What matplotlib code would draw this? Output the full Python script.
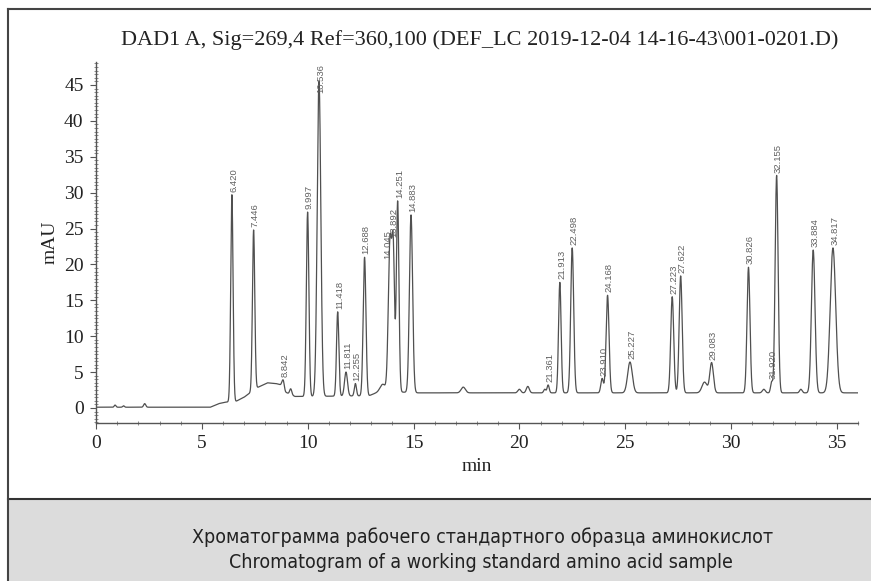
import numpy as np
import matplotlib
matplotlib.use("Agg")
import matplotlib.pyplot as plt
from matplotlib.patches import Rectangle
from matplotlib.ticker import MultipleLocator

# ---- data ----
title = r"DAD1 A, Sig=269,4 Ref=360,100 (DEF_LC 2019-12-04 14-16-43\001-0201.D)"
caption_ru = "Хроматограмма рабочего стандартного образца аминокислот"
caption_en = "Chromatogram of a working standard amino acid sample"

peak_times = [6.420, 7.446, 8.842, 9.997, 10.536, 11.418, 11.811, 12.255, 12.688,
              13.892, 14.045, 14.251, 14.883, 21.361, 21.913, 22.498, 23.910,
              24.168, 25.227, 27.223, 27.622, 29.083, 30.826, 31.920, 32.155,
              33.884, 34.817]
peak_labels = ["6.420", "7.446", "8.842", "9.997", "10.536", "11.418", "11.811",
               "12.255", "12.688", "13.892", "14.045", "14.251", "14.883", "21.361",
               "21.913", "22.498", "23.910", "24.168", "25.227", "27.223", "27.622",
               "29.083", "30.826", "31.920", "32.155", "33.884", "34.817"]
peak_heights = [29.7, 24.8, 3.9, 27.3, 45.5, 13.4, 5.0, 3.4, 21.0,
                23.4, 20.4, 28.8, 26.9, 3.2, 17.5, 22.3, 4.1,
                15.7, 6.4, 15.5, 18.4, 6.3, 19.6, 3.6, 32.4,
                22.0, 22.3]
peak_widths = [0.055, 0.055, 0.05, 0.06, 0.085, 0.055, 0.07, 0.05, 0.065,
               0.08, 0.06, 0.06, 0.075, 0.05, 0.06, 0.07, 0.06,
               0.07, 0.11, 0.07, 0.07, 0.085, 0.07, 0.05, 0.07,
               0.085, 0.13]

bump_times = [0.9, 1.3, 2.3, 9.2, 13.55, 17.35, 20.0, 20.4, 21.2, 28.75, 31.55, 33.3]
bump_heights = [0.3, 0.2, 0.5, 0.8, 1.0, 0.8, 0.5, 0.9, 0.5, 1.5, 0.5, 0.5]
bump_widths = [0.04, 0.04, 0.05, 0.05, 0.12, 0.1, 0.07, 0.07, 0.05, 0.12, 0.07, 0.06]

base_t = [0.0, 5.4, 5.8, 6.1, 6.6, 7.0, 7.6, 8.1, 8.5, 8.75, 8.95, 9.4, 10.0, 12.9,
          13.4, 13.8, 15.2, 20.0, 36.0]
base_v = [0.1, 0.1, 0.6, 0.8, 0.9, 1.5, 2.8, 3.5, 3.4, 3.2, 2.2, 1.6, 1.6, 1.7,
          2.3, 2.3, 2.1, 2.1, 2.1]

x_ticks = [0, 5, 10, 15, 20, 25, 30, 35]
y_ticks = [0, 5, 10, 15, 20, 25, 30, 35, 40, 45]

label_y_offsets = {"10.536": -2.0}
label_x_offsets = {"14.045": -0.32, "13.892": 0.12}

# ---- build trace ----
t = np.linspace(0, 36, 7201)
sig = np.interp(t, base_t, base_v)
for tb, hb, wb in zip(bump_times, bump_heights, bump_widths):
    sig = sig + hb * np.exp(-0.5 * ((t - tb) / wb) ** 2)
for tp, hp, wp in zip(peak_times, peak_heights, peak_widths):
    amp = hp - np.interp(tp, base_t, base_v)
    sig = sig + amp * np.exp(-0.5 * ((t - tp) / wp) ** 2)

# ---- figure ----
fig = plt.figure(figsize=(8.71, 5.81), dpi=100)
W, H = 871, 581

# caption box and frame
fig.patches.append(Rectangle((8 / W, 0), 1.0, 1 - 499 / H, transform=fig.transFigure,
                             facecolor="#dcdcdc", edgecolor="none", zorder=0))
fig.lines.append(plt.Line2D([8 / W, 1], [1 - 499 / H, 1 - 499 / H], transform=fig.transFigure,
                            color="#333333", lw=1.5))
fig.lines.append(plt.Line2D([8 / W, 8 / W], [0, 1 - 9 / H], transform=fig.transFigure,
                            color="#444444", lw=1.5))
fig.lines.append(plt.Line2D([8 / W, 1], [1 - 9 / H, 1 - 9 / H], transform=fig.transFigure,
                            color="#444444", lw=1.5))

ax = fig.add_axes([96 / W, 1 - 423 / H, (858 - 96) / W, (423 - 62) / H])
ax.plot(t, sig, color="#505050", lw=0.9)
ax.set_xlim(0, 36)
ax.set_ylim(-2.1, 48.2)
for s in ["top", "right"]:
    ax.spines[s].set_visible(False)
for s in ["left", "bottom"]:
    ax.spines[s].set_color("#555555")
    ax.spines[s].set_linewidth(1.0)
ax.set_xticks(x_ticks)
ax.set_yticks(y_ticks)
ax.xaxis.set_minor_locator(MultipleLocator(1))
ax.yaxis.set_minor_locator(MultipleLocator(0.5))
ax.tick_params(which="major", direction="out", length=4, color="#555555", labelsize=14,
               pad=5)
ax.tick_params(which="minor", direction="inout", length=3, color="#777777")
for lab in ax.get_xticklabels() + ax.get_yticklabels():
    lab.set_family("Liberation Serif")
    lab.set_color("#222222")

ax.set_xlabel("min", family="Liberation Serif", fontsize=14, color="#222222", labelpad=4)
ax.set_ylabel("mAU", family="Liberation Serif", fontsize=14, color="#222222", labelpad=4)

for tp, hp, lb in zip(peak_times, peak_heights, peak_labels):
    ax.text(tp + 0.08 + label_x_offsets.get(lb, 0.0),
            hp + 0.4 + label_y_offsets.get(lb, 0.0), lb, rotation=90,
            ha="center", va="bottom", fontsize=6.8, color="#606060",
            family="Liberation Sans")

fig.text(480 / W, 1 - 40 / H, title, ha="center", va="center",
         family="Liberation Serif", fontsize=16, color="#222222")

cap_font = ["DejaVu Sans"]
fig.text(483 / W, 1 - 537 / H, caption_ru, ha="center", va="center",
         family=cap_font, fontsize=14, fontstretch="condensed", color="#222222")
fig.text(481 / W, 1 - 562 / H, caption_en, ha="center", va="center",
         family=cap_font, fontsize=14, fontstretch="condensed", color="#222222")

fig.savefig("out.png", dpi=100)
